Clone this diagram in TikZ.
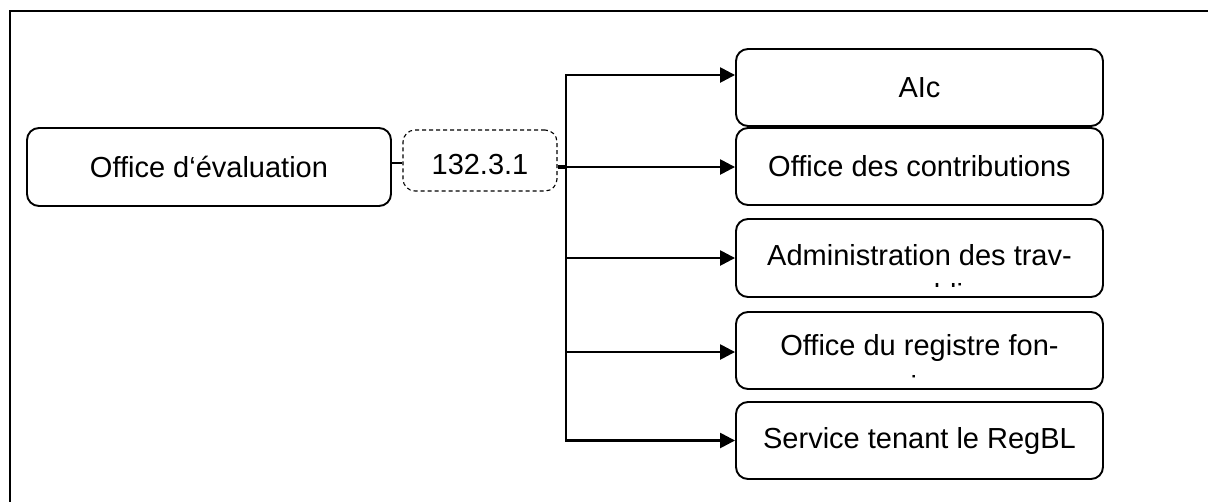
\documentclass[tikz,border=0pt]{standalone}
\usepackage{fontspec}
\setmainfont{Liberation Sans}
\usetikzlibrary{arrows.meta}
\begin{document}
\begin{tikzpicture}[x=1pt,y=-1pt,
  txt/.style={font=\fontsize{29}{34}\selectfont},
  box/.style={draw, line width=1.9pt, rounded corners=12pt, inner sep=0pt, txt},
  tag/.style={draw, dash pattern=on 4pt off 3pt, line width=1.1pt, rounded corners=12pt, inner sep=0pt, txt},
  conn/.style={line width=2.5pt},
  arr/.style={conn, -{Triangle[length=15pt,width=15pt]}}]
\useasboundingbox (0,0) rectangle (1208,501);
\begin{scope}
\clip (0,0) rectangle (1208,501);
\draw[line width=2pt] (10,11) rectangle (1240,540);
\end{scope}
% nodes
\node[box, minimum width=364pt, minimum height=78pt] (eval) at (209,167) {Office d‘évaluation};
\node[tag, minimum width=154pt, minimum height=61pt, text height=29pt] (code) at (480,160.5) {132.3.1};
\node[box, minimum width=367pt, minimum height=77pt] (alc) at (919.5,87.5) {AIc};
\node[box, minimum width=367pt, minimum height=77pt] (contrib) at (919.5,166.5) {Office des contributions};
\node[box, minimum width=367pt, minimum height=78pt, text depth=6.8pt] (admin) at (919.5,258) {Administration des trav-};
\node[box, minimum width=367pt, minimum height=77pt, text depth=12pt] (reg) at (919.5,350.5) {Office du registre fon-};
\node[box, minimum width=367pt, minimum height=77pt] (serv) at (919.5,440.5) {Service tenant le RegBL};
% clipped second lines
\begin{scope}
\clip (736,219) rectangle (1103,286);
\node[txt, anchor=base, inner sep=0pt] (adminb) at (919.5,304) {aux publics};
\end{scope}
\begin{scope}
\clip (736,312) rectangle (1103,378);
\node[txt, anchor=base, inner sep=0pt] (regb) at (919.5,396) {cier};
\end{scope}
% connectors
\coordinate (tr) at (566,167);
\draw[conn] ([yshift=4pt]eval.east) -- ([yshift=4pt]eval.east -| code.west);
\draw[conn, line width=3.2pt] (code.east |- tr) -- (tr);
\draw[arr] (tr) |- ([yshift=12.5pt]alc.west);
\draw[arr] (tr) -- (contrib.west |- tr);
\draw[arr] (tr) |- (admin.west);
\draw[arr] (tr) |- ([yshift=-1.5pt]reg.west);
\draw[arr] (tr) |- (serv.west);
\end{tikzpicture}
\end{document}
